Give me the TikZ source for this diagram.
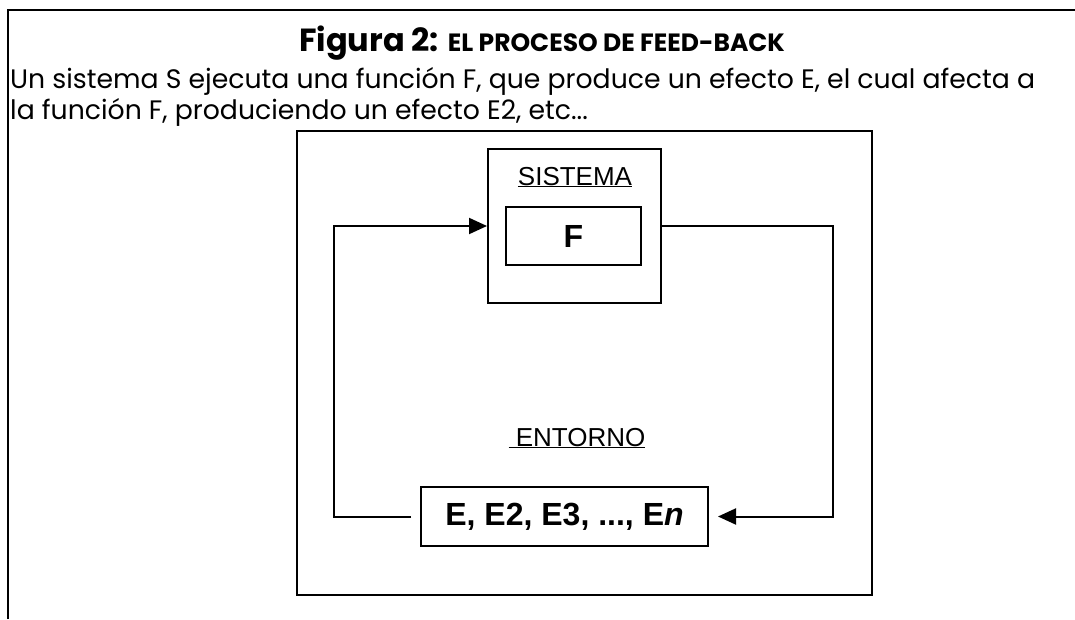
\documentclass[tikz,border=0pt]{standalone}
\usepackage{fontspec}
\setmainfont{Poppins}
\newfontfamily\arialfont{Liberation Sans}
\usetikzlibrary{arrows.meta, positioning, calc}
\tikzstyle{caja} = [rectangle, draw=black, line width=2pt, inner sep=0pt, text centered]
\tikzstyle{etiqueta} = [inner sep=0pt, font=\arialfont\fontsize{26}{30}\selectfont]
\tikzstyle{texto} = [anchor=base west, inner sep=0pt, font=\fontsize{26.7}{30}\selectfont]
\tikzstyle{negrita} = [font=\arialfont\bfseries\fontsize{32}{36}\selectfont]
\tikzstyle{flecha} = [line width=2pt, -{Triangle[length=18pt, width=16pt]}]
\tikzstyle{linea} = [line width=2pt]

\begin{document}
\begin{tikzpicture}[x=1pt, y=-1pt]
    \useasboundingbox (0,0) rectangle (1075,619);

    % Marco
    \draw [linea] (8,619) -- (8,10) -- (1075,10);

    % Textos
    \node (titulo) [anchor=base, inner sep=0pt] at (542,51) {\fontsize{32}{36}\selectfont\bfseries Figura 2: {\fontsize{25}{30}\selectfont EL PROCESO DE FEED-BACK}};
    \node (linea1) [texto] at (10,88) {Un sistema S ejecuta una función F, que produce un efecto E, el cual afecta a};
    \node (linea2) [texto] at (10,119) {la función F, produciendo un efecto E2, etc...};

    % Nodes
    \node (entorno) [caja, minimum width=575pt, minimum height=464pt] at (584.5,363) {};
    \node (sistema) [caja, minimum width=173pt, minimum height=154pt] at (574.5,226) {};
    \node (funcion) [caja, negrita, minimum width=135pt, minimum height=58pt] at (573.5,236) {F};
    \node (lblsistema) [etiqueta, anchor=base] at (575,185) {\underline{SISTEMA}};
    \node (lblentorno) [etiqueta, anchor=base] at (577,446) {\underline{\ ENTORNO}};
    \node (efectos) [caja, negrita, minimum width=287pt, minimum height=59pt, outer xsep=10pt] at (564.5,516.5) {E, E2, E3, ..., E\textit{n}};

    % Arrows
    \coordinate (izq) at (334,0);
    \coordinate (der) at (833,0);
    \draw [flecha] (efectos.west) -- (efectos.west -| izq) -- (sistema.west -| izq) -- (sistema.west);
    \draw [flecha] (sistema.east) -- (sistema.east -| der) -- (efectos.east -| der) -- (efectos.east);

\end{tikzpicture}
\end{document}
